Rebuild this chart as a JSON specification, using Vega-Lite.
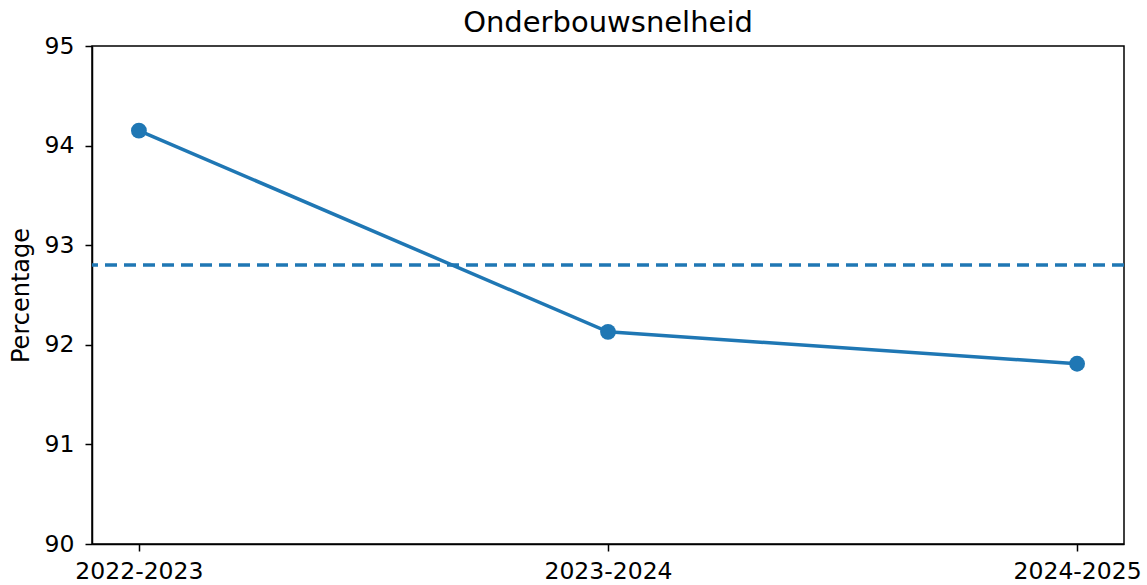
{
  "$schema": "https://vega.github.io/schema/vega-lite/v6.json",
  "autosize": {"type": "none"},
  "width": 1032,
  "height": 498,
  "padding": {"left": 92, "top": 46, "right": 23, "bottom": 41},
  "background": "white",
  "config": {
    "font": "DejaVu Sans",
    "view": {"stroke": "black", "strokeWidth": 1.5},
    "axis": {
      "grid": false,
      "domainColor": "black",
      "domainWidth": 1.5,
      "tickColor": "black",
      "tickWidth": 1.5,
      "tickSize": 7,
      "labelFont": "DejaVu Sans",
      "labelFontSize": 23.5,
      "labelColor": "black",
      "labelPadding": 8,
      "titleFont": "DejaVu Sans",
      "titleFontSize": 24,
      "titleFontWeight": "normal",
      "titleColor": "black"
    }
  },
  "title": {
    "text": "Onderbouwsnelheid",
    "font": "DejaVu Sans",
    "fontSize": 29,
    "fontWeight": "normal",
    "color": "black",
    "anchor": "middle",
    "offset": 8,
    "dy": 12
  },
  "datasets": {
    "series": [
      {"jaar": "2022-2023", "percentage": 94.15},
      {"jaar": "2023-2024", "percentage": 92.13},
      {"jaar": "2024-2025", "percentage": 91.81}
    ],
    "referentie": [{"waarde": 92.8}]
  },
  "layer": [
    {
      "data": {"name": "referentie"},
      "mark": {"type": "rule", "color": "#1f77b4", "strokeWidth": 3.5, "strokeDash": [12, 7]},
      "encoding": {
        "y": {"field": "waarde", "type": "quantitative"}
      }
    },
    {
      "data": {"name": "series"},
      "mark": {"type": "line", "color": "#1f77b4", "strokeWidth": 3.5, "point": {"filled": true, "size": 250, "color": "#1f77b4", "opacity": 1}},
      "encoding": {
        "x": {
          "field": "jaar",
          "type": "ordinal",
          "scale": {"type": "point", "padding": 0.1},
          "axis": {"title": null, "labelAngle": 0}
        },
        "y": {
          "field": "percentage",
          "type": "quantitative",
          "scale": {"domain": [90, 95], "nice": false, "zero": false},
          "axis": {
            "title": "Percentage",
            "values": [90, 91, 92, 93, 94, 95],
            "format": "d",
            "labelPadding": 11,
            "titleX": -64,
            "titleY": 249,
            "titleAngle": -90,
            "titleBaseline": "alphabetic",
            "titleAlign": "center"
          }
        }
      }
    }
  ]
}
